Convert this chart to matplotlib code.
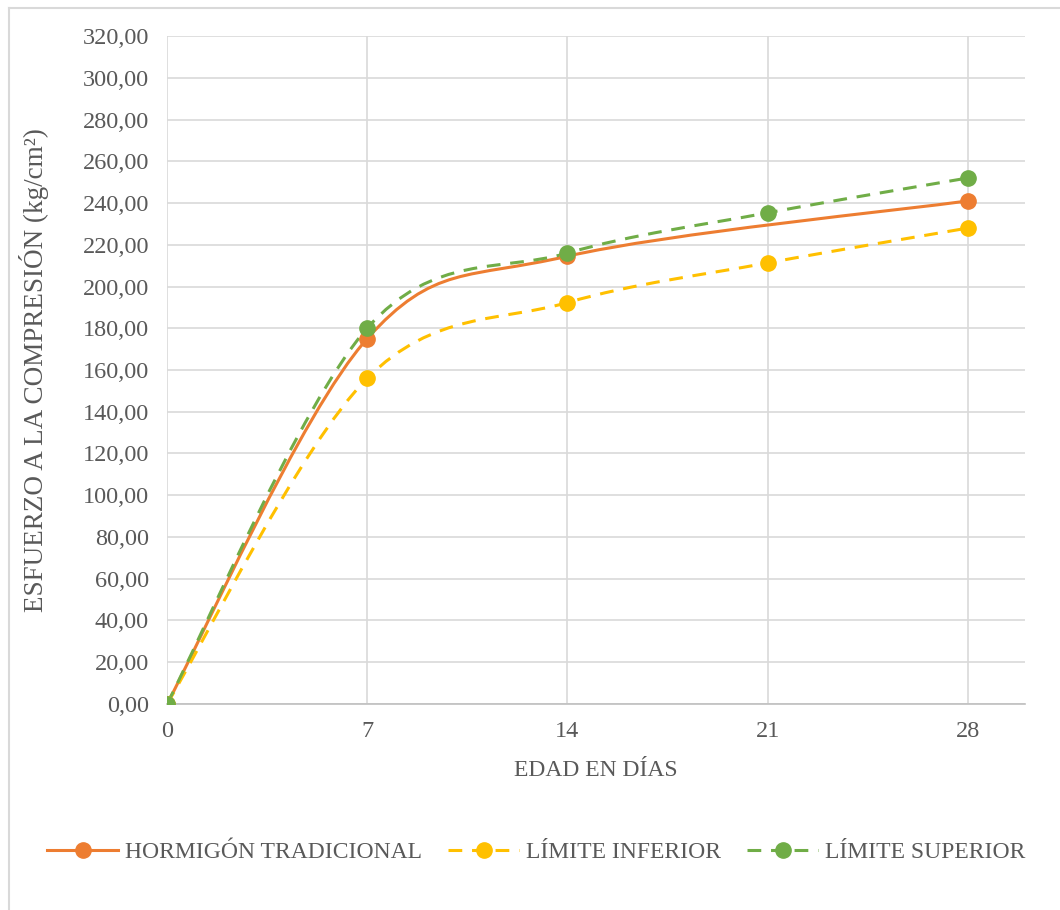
import numpy as np
import matplotlib
matplotlib.use("Agg")
import matplotlib.pyplot as plt
from matplotlib.path import Path
from matplotlib.patches import PathPatch
from matplotlib.lines import Line2D
from matplotlib.ticker import FuncFormatter

# Data
dias_trad = [0, 7, 14, 28]
trad = [0.0, 175.0, 214.5, 241.0]
dias_lim = [0, 7, 14, 21, 28]
lim_inf = [0.0, 156.0, 192.3, 211.3, 228.0]
lim_sup = [0.0, 180.0, 216.0, 235.3, 252.0]
nombres = ["HORMIGÓN TRADICIONAL", "LÍMITE INFERIOR", "LÍMITE SUPERIOR"]
colores = ["#ED7D31", "#FFC000", "#70AD47"]

plt.rcParams["font.family"] = ["Liberation Serif", "DejaVu Serif"]
GRIS = "#595959"


def smooth_path(x, y):
    # Excel-like smoothed line: Catmull-Rom converted to cubic Bezier segments
    p = np.column_stack([x, y]).astype(float)
    n = len(p)
    verts = [p[0]]
    codes = [Path.MOVETO]
    for i in range(n - 1):
        p0 = p[i - 1] if i > 0 else p[i]
        p3 = p[i + 2] if i + 2 < n else p[i + 1]
        c1 = p[i] + (p[i + 1] - p0) / 6.0
        c2 = p[i + 1] - (p3 - p[i]) / 6.0
        verts += [c1, c2, p[i + 1]]
        codes += [Path.CURVE4] * 3
    return Path(verts, codes)


fig = plt.figure(figsize=(10.6, 9.1), dpi=100)
# chart frame: only left and top edges are visible in the original
fig.lines.append(Line2D([0.0085, 0.0085], [0.0, 0.991], transform=fig.transFigure,
                        color="#d9d9d9", linewidth=1.5))
fig.lines.append(Line2D([0.0085, 1.0], [0.991, 0.991], transform=fig.transFigure,
                        color="#d9d9d9", linewidth=1.5))
ax = fig.add_axes([0.1575, 0.2264, 0.8095, 0.734])

dash = (0, (4.5, 3.2))
series = [(dias_trad, trad, "-"), (dias_lim, lim_inf, dash), (dias_lim, lim_sup, dash)]
handles = []
for (xs, ys, ls), nombre, c in zip(series, nombres, colores):
    patch = PathPatch(smooth_path(xs, ys), fill=False, edgecolor=c, linewidth=2.2,
                      linestyle=ls, capstyle="butt", zorder=3)
    ax.add_patch(patch)
    ax.plot(xs, ys, linestyle="none", marker="o", markersize=11, color=c, zorder=4)
    handles.append(Line2D([], [], color=c, linewidth=2.2, linestyle=ls,
                          marker="o", markersize=11, label=nombre))

ax.set_xlim(0, 30)
ax.set_ylim(0, 320)
ax.set_xticks([0, 7, 14, 21, 28])
ax.set_yticks(np.arange(0, 321, 20))
ax.yaxis.set_major_formatter(FuncFormatter(lambda v, _: f"{v:.2f}".replace(".", ",")))
ax.grid(True, color="#d9d9d9", linewidth=1.2)
ax.set_axisbelow(True)
for s in ["top", "right", "left"]:
    ax.spines[s].set_visible(False)
ax.spines["bottom"].set_color("#bfbfbf")
ax.spines["bottom"].set_linewidth(1.2)
ax.tick_params(length=0, labelsize=17.5, labelcolor=GRIS)
ax.tick_params(axis="x", pad=12)
ax.tick_params(axis="y", pad=13)

ax.set_xlabel("EDAD EN DÍAS", fontsize=17, color=GRIS, labelpad=13)
ax.set_ylabel("ESFUERZO A LA COMPRESIÓN (kg/cm²)", fontsize=19.5, color=GRIS, labelpad=24)

fig.legend(handles=handles, loc="center", bbox_to_anchor=(0.506, 0.063), ncol=3,
           frameon=False, fontsize=17, labelcolor=GRIS, handlelength=3.0,
           handletextpad=0.3, columnspacing=1.1)

fig.savefig("out.png", dpi=100)
